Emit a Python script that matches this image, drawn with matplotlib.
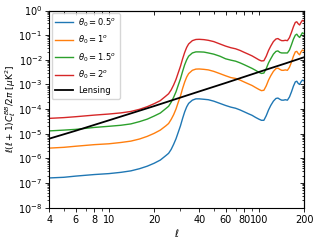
import matplotlib
matplotlib.use("Agg")
import matplotlib.pyplot as plt
from matplotlib.ticker import NullFormatter, LogLocator

ell = [4, 5, 6, 8, 10, 12, 14, 16, 18, 20, 22, 24, 25, 26, 27, 28, 29, 30, 31, 32,
       33, 34, 36, 38, 40, 43, 46, 50, 55, 60, 65, 70, 75, 80, 85, 90, 95, 100, 104,
       108, 112, 116, 120, 125, 130, 134, 138, 142, 146, 150, 155, 160, 165, 170,
       175, 179, 183, 187, 191, 195, 200]

cl_05 = [1.6e-7, 1.7e-7, 1.9e-7, 2.2e-7, 2.4e-7, 2.7e-7, 3.1e-7, 3.8e-7, 4.8e-7, 6.3e-7,
         8.5e-7, 1.3e-6, 1.6e-6, 2.3e-6, 3.7e-6, 6.2e-6, 1.15e-5, 2.1e-5, 4.2e-5, 7.7e-5,
         1.23e-4, 1.7e-4, 2.3e-4, 2.6e-4, 2.6e-4, 2.5e-4, 2.4e-4, 2.1e-4, 1.7e-4, 1.4e-4,
         1.2e-4, 1.08e-4, 9.2e-5, 7.7e-5, 6.5e-5, 5.6e-5, 4.6e-5, 3.9e-5, 3.5e-5,
         3.5e-5, 5.4e-5, 9.2e-5, 1.4e-4, 2.1e-4, 2.7e-4, 2.8e-4, 2.5e-4, 2.3e-4, 2.3e-4,
         2.4e-4, 2.3e-4, 3.1e-4, 5.0e-4, 8.5e-4, 1.27e-3, 1.35e-3, 1.1e-3, 1.0e-3,
         1.27e-3, 1.5e-3, 1.4e-3]

cl_1 = [2.6e-6, 2.8e-6, 3.1e-6, 3.6e-6, 3.9e-6, 4.4e-6, 5.0e-6, 6.1e-6, 7.8e-6, 1.03e-5,
        1.4e-5, 2.1e-5, 2.6e-5, 3.8e-5, 5.9e-5, 1.0e-4, 1.9e-4, 3.4e-4, 6.9e-4, 1.25e-3,
        2.0e-3, 2.75e-3, 3.75e-3, 4.2e-3, 4.25e-3, 4.1e-3, 3.9e-3, 3.4e-3, 2.75e-3, 2.25e-3,
        1.9e-3, 1.75e-3, 1.5e-3, 1.25e-3, 1.06e-3, 9.1e-4, 7.5e-4, 6.3e-4, 5.6e-4,
        5.8e-4, 8.8e-4, 1.5e-3, 2.25e-3, 3.4e-3, 4.4e-3, 4.6e-3, 4.1e-3, 3.75e-3, 3.75e-3,
        3.9e-3, 3.75e-3, 5.0e-3, 8.1e-3, 1.4e-2, 2.1e-2, 2.2e-2, 1.8e-2, 1.6e-2,
        2.1e-2, 2.5e-2, 2.3e-2]

cl_15 = [1.3e-5, 1.4e-5, 1.5e-5, 1.8e-5, 2.0e-5, 2.2e-5, 2.5e-5, 3.1e-5, 3.9e-5, 5.2e-5,
         6.9e-5, 1.06e-4, 1.3e-4, 1.9e-4, 3.0e-4, 5.0e-4, 9.4e-4, 1.7e-3, 3.4e-3, 6.3e-3,
         1.0e-2, 1.4e-2, 1.9e-2, 2.1e-2, 2.1e-2, 2.06e-2, 1.9e-2, 1.7e-2, 1.4e-2, 1.1e-2,
         9.7e-3, 8.8e-3, 7.5e-3, 6.3e-3, 5.3e-3, 4.5e-3, 3.75e-3, 3.1e-3, 2.8e-3,
         2.9e-3, 4.4e-3, 7.5e-3, 1.1e-2, 1.7e-2, 2.2e-2, 2.3e-2, 2.0e-2, 1.9e-2, 1.9e-2,
         1.9e-2, 1.9e-2, 2.5e-2, 4.1e-2, 6.9e-2, 0.10, 0.11, 9.1e-2, 8.1e-2,
         0.10, 0.125, 0.115]

cl_2 = [4.2e-5, 4.5e-5, 4.9e-5, 5.7e-5, 6.3e-5, 7.0e-5, 8.0e-5, 9.8e-5, 1.25e-4, 1.65e-4,
        2.2e-4, 3.4e-4, 4.2e-4, 6.0e-4, 9.5e-4, 1.6e-3, 3.0e-3, 5.5e-3, 1.1e-2, 2.0e-2,
        3.2e-2, 4.4e-2, 6.0e-2, 6.7e-2, 6.8e-2, 6.6e-2, 6.2e-2, 5.5e-2, 4.4e-2, 3.6e-2,
        3.1e-2, 2.8e-2, 2.4e-2, 2.0e-2, 1.7e-2, 1.45e-2, 1.2e-2, 1.0e-2, 9.0e-3,
        9.2e-3, 1.4e-2, 2.4e-2, 3.6e-2, 5.5e-2, 7.0e-2, 7.3e-2, 6.5e-2, 6.0e-2, 6.0e-2,
        6.2e-2, 6.0e-2, 8.0e-2, 0.13, 0.22, 0.33, 0.35, 0.29, 0.26,
        0.33, 0.40, 0.37]

ell_lens = [4, 6, 10, 20, 40, 60, 100, 150, 200]
cl_lens = [6.3e-6, 1.32e-5, 3.5e-5, 1.32e-4, 5.2e-4, 1.15e-3, 3.2e-3, 7.1e-3, 1.27e-2]

labels = [r"$\theta_0 = 0.5^o$", r"$\theta_0 = 1^o$", r"$\theta_0 = 1.5^o$",
          r"$\theta_0 = 2^o$", "Lensing"]
colors = ["#1f77b4", "#ff7f0e", "#2ca02c", "#d62728", "black"]

xticks = [4, 6, 8, 10, 20, 40, 60, 80, 100, 200]
xticklabels = ["4", "6", "8", "10", "20", "40", "60", "80", "100", "200"]

fs = 7
fig = plt.figure(figsize=(3.2, 2.4), dpi=100)
ax = fig.add_axes([0.154, 0.135, 0.796, 0.821])

for y, lab, c in zip([cl_05, cl_1, cl_15, cl_2], labels[:4], colors[:4]):
    ax.plot(ell, y, color=c, lw=1.0, label=lab)
ax.plot(ell_lens, cl_lens, color=colors[4], lw=1.3, label=labels[4])

ax.set_xscale("log")
ax.set_yscale("log")
ax.set_xlim(4, 200)
ax.set_ylim(1e-8, 1)
ax.set_xticks(xticks)
ax.set_xticklabels(xticklabels)
ax.xaxis.set_minor_locator(LogLocator(base=10, subs=range(1, 10), numticks=20))
ax.xaxis.set_minor_formatter(NullFormatter())
ax.yaxis.set_major_locator(LogLocator(base=10, numticks=20))
ax.yaxis.set_minor_locator(LogLocator(base=10, subs=range(2, 10), numticks=20))
ax.yaxis.set_minor_formatter(NullFormatter())
ax.tick_params(which="both", labelsize=fs, length=3, width=0.6, pad=2)
ax.tick_params(which="minor", length=1.8, width=0.5)

secx = ax.secondary_xaxis("top")
secx.set_xticks(xticks)
secx.xaxis.set_minor_locator(LogLocator(base=10, subs=range(1, 10), numticks=20))
secx.tick_params(which="both", direction="in", labeltop=False, length=3, width=0.6)
secx.tick_params(which="minor", length=1.8)
secy = ax.secondary_yaxis("right")
secy.yaxis.set_major_locator(LogLocator(base=10, numticks=20))
secy.yaxis.set_minor_locator(LogLocator(base=10, subs=range(2, 10), numticks=20))
secy.tick_params(which="both", direction="in", labelright=False, length=3, width=0.6)
secy.tick_params(which="minor", length=1.8)

ax.set_xlabel(r"$\ell$", fontsize=fs, labelpad=2)
ax.set_ylabel(r"$\ell(\ell+1)C_\ell^{BB}/2\pi\ [\mu{\rm K}^2]$", fontsize=6.5, labelpad=0)
ax.legend(loc="upper left", fontsize=6, handlelength=2.2, labelspacing=0.6,
          borderaxespad=0.3, handletextpad=0.6)

fig.savefig("out.png", dpi=100)
